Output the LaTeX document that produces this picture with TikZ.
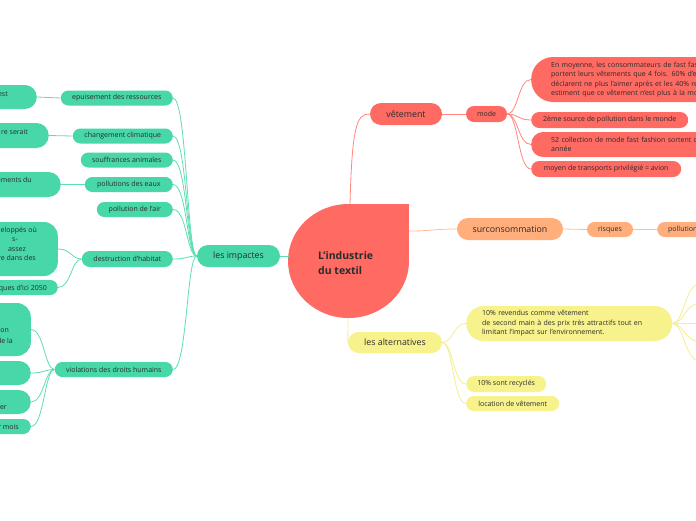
\documentclass[tikz,border=0pt]{standalone}
\usepackage{fontspec}
\setmainfont{Open Sans}
\definecolor{gr}{HTML}{47D7A8}
\definecolor{grl}{HTML}{5FDDB4}
\definecolor{rd}{HTML}{FF6A63}
\definecolor{rdl}{HTML}{FF8780}
\definecolor{og}{HTML}{FFAE7C}
\definecolor{ogl}{HTML}{FFC097}
\definecolor{yl}{HTML}{F8F28D}
\definecolor{yll}{HTML}{F5EE90}
\definecolor{txt}{HTML}{2B2B2B}
\newcommand\smallfnt{\fontsize{7}{9.5}\selectfont}
\newcommand\midfnt{\fontsize{8.8}{10.5}\selectfont}
\newcommand\ctrfnt{\fontsize{10.5}{15}\selectfont\bfseries}
\begin{document}
\begin{tikzpicture}[x=1pt,y=-1pt,
  nd/.style={inner sep=0pt, text=txt, align=center},
  gfill/.style={nd, fill=gr},
  rfill/.style={nd, fill=rd},
  ofill/.style={nd, fill=og},
  yfill/.style={nd, fill=yl},
  sm/.style={font=\smallfnt},
  md/.style={font=\midfnt},
  sz/.style n args={3}{minimum width=#1pt, minimum height=#2pt, rounded corners=#3pt},
  frag/.style={inner sep=0pt, text=txt, font=\smallfnt, anchor=base east},
  gline/.style={draw=grl, line width=0.8pt},
  rline/.style={draw=rdl, line width=0.8pt},
  oline/.style={draw=ogl, line width=0.8pt},
  yline/.style={draw=yll, line width=0.8pt},
]
\useasboundingbox (0,0) rectangle (696,520);
\fill[white] (0,0) rectangle (696,520);
\begin{scope}
\clip (0,0) rectangle (696,520);

% central shape
\fill[rd] (348.5,261) ellipse [x radius=60.5, y radius=57];
\fill[rd] (348.5,204) rectangle (409,261);
\node[nd, font=\ctrfnt, align=left, anchor=west] (c) at (318,263.5) {L'industrie\\du textil};
\coordinate (ctop) at (350,204);
\coordinate (cright) at (409,231);
\coordinate (cleft) at (288.5,256);
\coordinate (cbot) at (348,318);

% left branch
\node[gfill, md, sz={83}{22}{11}] (imp) at (238.5,256) {les impactes};
\node[gfill, sm, sz={112}{15}{7.5}, anchor=east] (ep) at (173,98) {epuisement des ressources};
\node[gfill, sm, sz={100}{15}{7.5}, anchor=east] (cc) at (173,136) {changement climatique};
\node[gfill, sm, sz={92}{15}{7.5}, anchor=east] (sa) at (173,160) {souffrances animales};
\node[gfill, sm, sz={88}{15}{7.5}, anchor=east] (pe) at (173,184.5) {pollutions des eaux};
\node[gfill, sm, sz={76}{15}{7.5}, anchor=east] (pa) at (173,209.5) {pollution de l'air};
\node[gfill, sm, sz={91}{16}{8}, anchor=east] (dh) at (173,259) {destruction d'habitat};
\node[gfill, sm, sz={118}{15}{7.5}, anchor=east] (vd) at (173,369.5) {violations des droits humains};

\node[gfill, sz={120}{24}{12}, anchor=east] (ep1) at (37,97) {};
\node[gfill, sz={120}{25}{12.5}, anchor=east] (cc1) at (49,135.5) {};
\node[gfill, sz={120}{25}{12.5}, anchor=east] (pe1) at (61,184.5) {};
\node[gfill, sz={120}{54}{14}, anchor=east] (dh1) at (58,249) {};
\node[gfill, sz={120}{15}{7.5}, anchor=east] (dh2) at (58,287.5) {};
\node[gfill, sz={120}{53}{14}, anchor=east] (vd1) at (31,329.5) {};
\node[gfill, sz={120}{24}{12}, anchor=east] (vd2) at (31,373) {};
\node[gfill, sz={120}{24}{12}, anchor=east] (vd3) at (31,402) {};
\node[gfill, sz={120}{15}{7.5}, anchor=east] (vd4) at (31,426.5) {};

\node[frag] (t1) at (8,96.5) {est};
\node[frag] (t2) at (28,134.5) {re serait};
\node[frag] (t3) at (32,182.5) {ements du};
\node[frag] (t4a) at (37,232.5) {eloppés où};
\node[frag] (t4b) at (18,241.5) {s-};
\node[frag] (t4c) at (26,251.5) {assez};
\node[frag] (t4d) at (36,260.5) {re dans des};
\node[frag] (t5) at (47,290.5) {ques d'ici 2050};
\node[frag] (t6a) at (9,332.5) {on};
\node[frag] (t6b) at (13,343.5) {de la};
\node[frag] (t7) at (7,409.5) {er};
\node[frag] (t8) at (19,429.5) {r mois};

\draw[gline] (cleft) -- (imp.east);
\foreach \n in {ep,cc,sa,pe,pa,dh,vd}
  \draw[gline] (imp.west) .. controls +(-10,0) and +(14,0) .. (\n.east);
\draw[gline] (ep.west) -- (ep1.east);
\draw[gline] (cc.west) -- (cc1.east);
\draw[gline] (pe.west) -- (pe1.east);
\foreach \n in {dh1,dh2}
  \draw[gline] (dh.west) .. controls +(-10,0) and +(13,0) .. (\n.east);
\foreach \n in {vd1,vd2,vd3,vd4}
  \draw[gline] (vd.west) .. controls +(-10,0) and +(13,0) .. (\n.east);

% top right: vetement
\node[rfill, md, sz={72}{22}{11}] (vet) at (406,114) {vêtement};
\node[rfill, sm, sz={41}{16}{8}] (mode) at (486.5,114) {mode};
\node[rfill, sm, sz={240}{45}{22}, anchor=west, align=left, text width=200pt, inner xsep=20pt] (m1) at (531,79.5)
  {En moyenne, les consommateurs de fast fas\\portent leurs vêtements que 4 fois. 60\% d'en\\déclarent ne plus l'aimer après et les 40\% res\\estiment que ce vêtement n'est plus à la mod};
\node[rfill, sm, sz={157}{16}{8}, anchor=west] (m2) at (531,120) {2ème source de pollution dans le monde};
\node[rfill, sm, sz={240}{25}{12}, anchor=west, align=left, text width=200pt, inner xsep=16pt] (m3) at (531,144.5)
  {52 collection de mode fast fashion sortent cha\\année};
\node[rfill, sm, sz={150}{16}{8}, anchor=west] (m4) at (531,169) {moyen de transports privilégié = avion};

\draw[rline] (ctop) .. controls (352,130) and (356,113) .. (vet.west);
\draw[rline] (vet.east) -- (mode.west);
\foreach \n in {m1,m2,m3,m4}
  \draw[rline] (mode.east) .. controls +(11,0) and +(-13,0) .. (\n.west);

% middle right: surconsommation
\node[ofill, md, sz={106}{22}{11}] (sur) at (510,229) {surconsommation};
\node[ofill, sm, sz={46}{15}{7.5}] (ris) at (610,229.5) {risques};
\node[ofill, sm, sz={80}{15}{7.5}, anchor=west, align=left, text width=60pt, inner xsep=11pt] (pol) at (657,229.5) {pollution};
\draw[oline] (cright) .. controls +(22,0) and +(-22,0) .. (sur.west);
\draw[oline] (sur.east) -- (ris.west);
\draw[oline] (ris.east) -- (pol.west);

% bottom right: alternatives
\node[yfill, md, sz={94}{21}{10.5}] (alt) at (395,342.5) {les alternatives};
\node[yfill, sm, sz={206}{35}{17.5}, anchor=west, align=left, text width=174pt, inner xsep=16pt] (rev) at (466,323.5)
  {10\% revendus comme vêtement\\de second main à des prix très attractifs tout en\\limitant l'impact sur l'environnement.};
\node[yfill, sm, sz={80}{16}{8}, anchor=west] (rec) at (466,384) {10\% sont recyclés};
\node[yfill, sm, sz={93}{15}{7.5}, anchor=west] (loc) at (466,403.5) {location de vêtement};
\draw[yline] (cbot) -- (alt.west);
\foreach \n in {rev,rec,loc}
  \draw[yline] (alt.east) .. controls +(11,0) and +(-13,0) .. (\n.west);
\coordinate (r1) at (702,283);
\coordinate (r2) at (702,303);
\coordinate (r3) at (702,323.5);
\coordinate (r4) at (702,342);
\coordinate (r5) at (702,362);
\foreach \n in {r1,r2,r4,r5}
  \draw[yline] (rev.east) .. controls +(12,0) and +(-18,0) .. (\n);
\draw[yline] (rev.east) -- (r3);
\end{scope}
\end{tikzpicture}
\end{document}
